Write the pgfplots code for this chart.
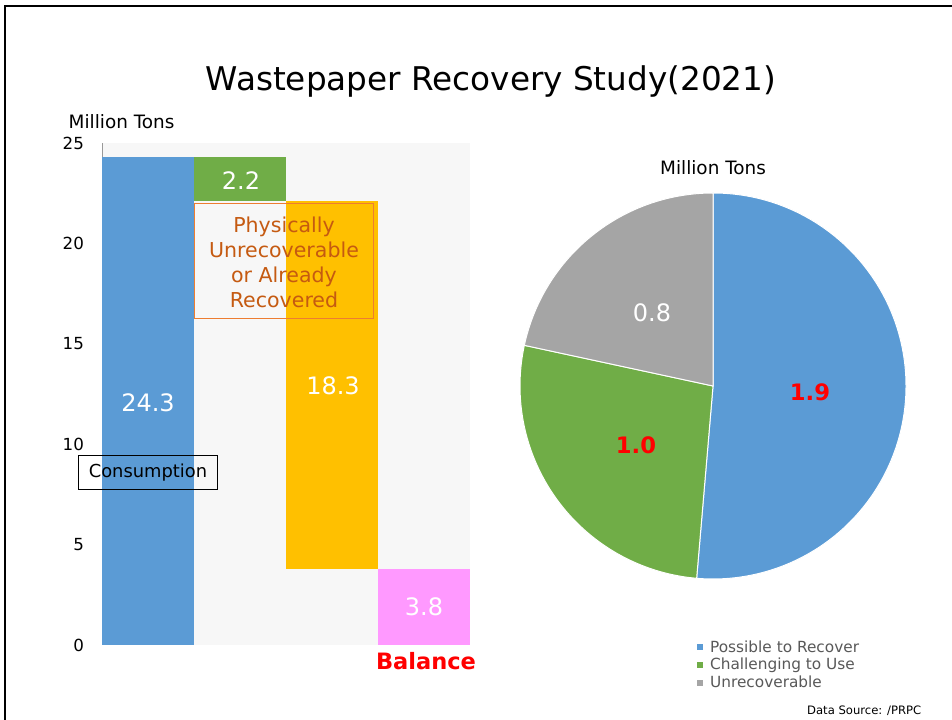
\documentclass[border=0pt]{standalone}
\usepackage{pgfplots}
\pgfplotsset{compat=1.18}
\usepackage{pgfplotstable}
\usepackage{fontspec}
\setmainfont{DejaVu Sans}
\definecolor{cblue}{HTML}{5B9BD5}
\definecolor{cgreen}{HTML}{70AD47}
\definecolor{corange}{HTML}{FFC000}
\definecolor{cpink}{HTML}{FF99FF}
\definecolor{cgray}{HTML}{A5A5A5}
\definecolor{ctext}{HTML}{C55A11}
\definecolor{cbox}{HTML}{ED7D31}
\definecolor{legtext}{HTML}{595959}
\definecolor{bgplot}{HTML}{F7F7F7}

% waterfall layers: base (invisible), consumption, unrecoverable, recovered, balance
\pgfplotstableread{
x base cons unrec recov bal
0.5 0    24.3 0   0    0
1.5 22.1 0    2.2 0    0
2.5 3.8  0    0   18.3 0
3.5 0    0    0   0    3.8
}\waterfall

% pie values
\def\pA{1.9}\def\pB{1.0}\def\pC{0.8}

\begin{document}
\begin{tikzpicture}[x=0.75pt,y=0.75pt]
\path[fill=white,use as bounding box] (0,0) rectangle (952,720);
\draw[line width=1.5pt] (5,0) -- (5,714) -- (952,714);
\coordinate (barorigin) at (102,75);
\coordinate (piecenter) at (713,334);

% Title
\node[font=\fontsize{24.5}{28}\selectfont] at (491,639) {Wastepaper Recovery Study(2021)};

% ---------- waterfall ----------
\begin{axis}[at={(barorigin)}, anchor=south west, scale only axis,
  width=276pt, height=376.5pt,
  xmin=0, xmax=4, ymin=0, ymax=25,
  ybar stacked, bar width=1,
  axis x line=none, axis y line*=left,
  y axis line style={black!40,-},
  ytick={0,5,...,25}, major tick length=0pt,
  yticklabel style={font=\fontsize{12.5}{14}\selectfont, xshift=-10pt},
  /pgf/number format/assume math mode=true,
  axis background/.style={fill=bgplot},
  clip=false]
\addplot[draw=none, fill=none] table[x=x,y=base] {\waterfall};
\addplot[draw=none, fill=cblue] table[x=x,y=cons] {\waterfall};
\addplot[draw=none, fill=cgreen] table[x=x,y=unrec] {\waterfall};
\addplot[draw=none, fill=corange] table[x=x,y=recov] {\waterfall};
\addplot[draw=none, fill=cpink] table[x=x,y=bal] {\waterfall};
\end{axis}

\node[anchor=west, font=\fontsize{13.8}{15}\selectfont] at (64,598) {Million Tons};
\node[text=white, font=\fontsize{18}{20}\selectfont] at (148,317) {24.3};
\node[text=white, font=\fontsize{18}{20}\selectfont] at (241,539) {2.2};
\node[text=white, font=\fontsize{18}{20}\selectfont] at (333,334) {18.3};
\node[text=white, font=\fontsize{18}{20}\selectfont] at (424,113) {3.8};
\draw[cbox, line width=0.75pt] (194,516) rectangle (373,401);
\node[text=ctext, align=center, font=\fontsize{15.4}{18.7}\selectfont] at (284,458)
  {Physically\\Unrecoverable\\or Already\\Recovered};
\draw[black, line width=0.75pt] (78,264) rectangle (217,230);
\node[font=\fontsize{13.4}{15}\selectfont] at (148,247) {Consumption};
\node[text=red, font=\bfseries\fontsize{16.9}{19}\selectfont] at (426,59) {Balance};

% ---------- pie ----------
\pgfmathsetmacro{\tot}{\pA+\pB+\pC}
\pgfmathsetmacro{\aA}{90-360*\pA/\tot}
\pgfmathsetmacro{\aB}{\aA-360*\pB/\tot}
\begin{axis}[at={(piecenter)}, anchor=center, scale only axis,
  width=289.5pt, height=289.5pt,
  xmin=-1, xmax=1, ymin=-1, ymax=1, hide axis, clip=false,
  legend style={at={(0.458,-0.152)}, anchor=north west, draw=none, fill=none,
    inner sep=0pt, font=\fontsize{11.5}{13.9}\selectfont, text=legtext,
    row sep=-1pt, cells={anchor=west}},
  legend image code/.code={\fill[#1] (0pt,-2.3pt) rectangle (4.6pt,2.3pt); \path (7.8pt,0pt);}]
\fill[cblue, draw=white, line width=0.75pt] (axis cs:0,0) -- (axis cs:0,1)
  arc[start angle=90, end angle=\aA, radius=144.75pt] -- cycle;
\fill[cgreen, draw=white, line width=0.75pt] (axis cs:0,0) -- (axis cs:{cos(\aA)},{sin(\aA)})
  arc[start angle=\aA, end angle=\aB, radius=144.75pt] -- cycle;
\fill[cgray, draw=white, line width=0.75pt] (axis cs:0,0) -- (axis cs:{cos(\aB)},{sin(\aB)})
  arc[start angle=\aB, end angle=-270, radius=144.75pt] -- cycle;
\addlegendimage{fill=cblue, draw=none}\addlegendentry{Possible to Recover}
\addlegendimage{fill=cgreen, draw=none}\addlegendentry{Challenging to Use}
\addlegendimage{fill=cgray, draw=none}\addlegendentry{Unrecoverable}
\end{axis}

\node[font=\fontsize{13.8}{15}\selectfont] at (713,552) {Million Tons};
\node[text=red, font=\bfseries\fontsize{17}{19}\selectfont] at (810,328) {\pA};
\node[text=red, font=\bfseries\fontsize{17}{19}\selectfont] at (636,275) {\pB};
\node[text=white, font=\fontsize{18}{20}\selectfont] at (652,407) {\pC};

\node[anchor=east, font=\fontsize{8.7}{10}\selectfont] at (926,9) {Data Source: /PRPC};
\end{tikzpicture}
\end{document}
